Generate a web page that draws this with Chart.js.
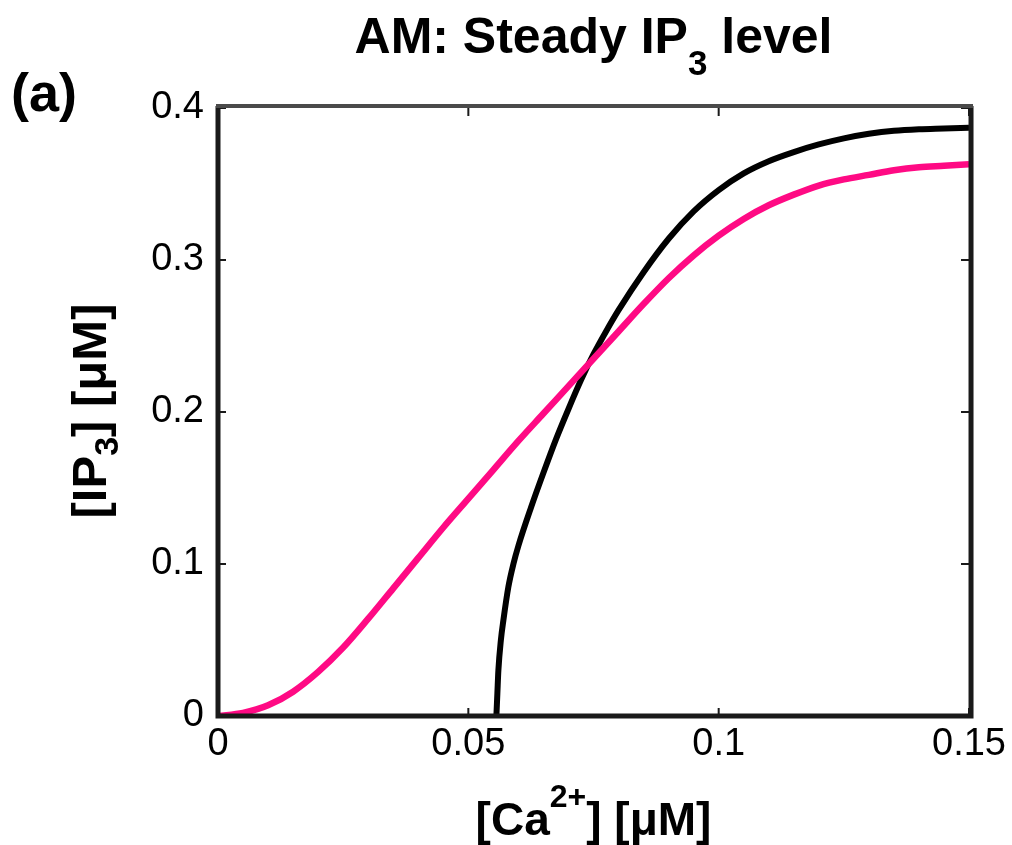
<!DOCTYPE html>
<html>
<head>
<meta charset="utf-8">
<script src="https://cdn.jsdelivr.net/npm/chart.js@4.4.1/dist/chart.umd.min.js"></script>
<style>
  html, body { margin: 0; padding: 0; background: #fff; }
  canvas { display: block; }
</style>
</head>
<body>
<canvas id="myChart" width="1012" height="845"></canvas>
<script>
// x ticks / y ticks
const xTicks = [0, 0.05, 0.1, 0.15];
const xTickLabels = ['0', '0.05', '0.1', '0.15'];
const yTicks = [0, 0.1, 0.2, 0.3, 0.4];
const yTickLabels = ['0', '0.1', '0.2', '0.3', '0.4'];

// pink curve
const caPink = [0, 0.005, 0.01, 0.015, 0.02, 0.025, 0.03, 0.035, 0.04, 0.045, 0.05,
  0.055, 0.06, 0.065, 0.07, 0.075, 0.08, 0.085, 0.09, 0.095, 0.1,
  0.105, 0.11, 0.115, 0.12, 0.125, 0.13, 0.135, 0.14, 0.145, 0.15];
const ip3Pink = [0, 0.002, 0.007, 0.016, 0.029, 0.045, 0.064, 0.084, 0.104, 0.124, 0.143,
  0.162, 0.181, 0.199, 0.217, 0.235, 0.253, 0.271, 0.288, 0.303, 0.316,
  0.327, 0.336, 0.343, 0.349, 0.353, 0.356, 0.359, 0.361, 0.362, 0.363];

// black curve
const caBlack = [0.0556, 0.0558, 0.056, 0.0565, 0.057, 0.058, 0.059, 0.06,
  0.0625, 0.065, 0.0675, 0.07, 0.0725, 0.075, 0.0775, 0.08,
  0.085, 0.09, 0.095, 0.1, 0.105, 0.11, 0.115, 0.12, 0.125, 0.13, 0.135, 0.14, 0.145, 0.15];
const ip3Black = [0, 0.015, 0.03, 0.05, 0.063, 0.085, 0.1, 0.112,
  0.137, 0.16, 0.182, 0.202, 0.221, 0.238, 0.253, 0.267,
  0.292, 0.314, 0.332, 0.346, 0.357, 0.365, 0.371, 0.376, 0.380, 0.383, 0.385, 0.386, 0.3865, 0.387];

const FONT = '"Liberation Sans", Arial, Helvetica, sans-serif';

function toPoints(xs, ys) {
  return xs.map((x, i) => ({ x: x, y: ys[i] }));
}

// draws a run of text pieces, some raised or lowered, centered on cx
function drawRich(c, parts, cx, baseY) {
  let total = 0;
  parts.forEach(p => {
    c.font = p.font;
    p.w = c.measureText(p.t).width;
    total += p.w;
  });
  let x = cx - total / 2;
  c.textAlign = 'left';
  c.textBaseline = 'alphabetic';
  parts.forEach(p => {
    c.font = p.font;
    c.fillText(p.t, x, baseY + (p.dy || 0));
    x += p.w;
  });
}

const framePlugin = {
  id: 'frame',
  afterDraw(chart) {
    const c = chart.ctx;
    const a = chart.chartArea;
    const xs = chart.scales.x, ys = chart.scales.y;
    c.save();

    // inward tick marks
    c.strokeStyle = '#1a1a1a';
    c.lineWidth = 2;
    c.beginPath();
    xTicks.forEach(v => {
      const px = xs.getPixelForValue(v);
      c.moveTo(px, a.bottom); c.lineTo(px, a.bottom - 8);
      c.moveTo(px, a.top); c.lineTo(px, a.top + 8);
    });
    yTicks.forEach(v => {
      const py = ys.getPixelForValue(v);
      c.moveTo(a.left, py); c.lineTo(a.left + 8, py);
      c.moveTo(a.right, py); c.lineTo(a.right - 8, py);
    });
    c.stroke();

    // box
    c.lineWidth = 5;
    c.strokeStyle = '#1a1a1a';
    c.beginPath();
    c.moveTo(a.left, a.top - 2);
    c.lineTo(a.left, a.bottom);
    c.lineTo(a.right + 2, a.bottom);
    c.lineTo(a.right + 2, a.top - 2);
    c.stroke();
    c.lineWidth = 4;
    c.strokeStyle = '#4a4a4a';
    c.beginPath();
    c.moveTo(a.left - 2, a.top - 2);
    c.lineTo(a.right + 4, a.top - 2);
    c.stroke();

    c.fillStyle = '#000';
    // title
    drawRich(c, [
      { t: 'AM: Steady IP', font: 'bold 50px ' + FONT },
      { t: '3', font: 'bold 35px ' + FONT, dy: 22 },
      { t: ' level', font: 'bold 50px ' + FONT }
    ], (a.left + a.right) / 2, 53);

    // panel letter
    c.font = 'bold 54px ' + FONT;
    c.textAlign = 'left';
    c.fillText('(a)', 11, 111);

    // x axis title
    drawRich(c, [
      { t: '[Ca', font: 'bold 46px ' + FONT },
      { t: '2+', font: 'bold 32px ' + FONT, dy: -28 },
      { t: '] [\u03BCM]', font: 'bold 46px ' + FONT }
    ], (a.left + a.right) / 2, 835);

    // y axis title
    c.save();
    c.translate(106, 411);
    c.rotate(-Math.PI / 2);
    drawRich(c, [
      { t: '[IP', font: 'bold 49px ' + FONT },
      { t: '3', font: 'bold 34px ' + FONT, dy: 12 },
      { t: '] [\u03BCM]', font: 'bold 49px ' + FONT }
    ], 0, 0);
    c.restore();

    c.restore();
  }
};

const ctx = document.getElementById('myChart');
const myChart = new Chart(ctx, {
  type: 'scatter',
  data: {
    datasets: [
      {
        label: 'pink',
        data: toPoints(caPink, ip3Pink),
        showLine: true,
        borderColor: '#ff0a84',
        borderWidth: 6.5,
        pointRadius: 0,
        cubicInterpolationMode: 'monotone'
      },
      {
        label: 'black',
        data: toPoints(caBlack, ip3Black),
        showLine: true,
        borderColor: '#000000',
        borderWidth: 6,
        pointRadius: 0,
        cubicInterpolationMode: 'monotone'
      }
    ]
  },
  options: {
    responsive: false,
    devicePixelRatio: 1,
    animation: false,
    layout: {
      padding: { top: 108, right: 39, left: 0, bottom: 0 }
    },
    plugins: {
      legend: { display: false },
      tooltip: { enabled: false },
      title: { display: false }
    },
    scales: {
      x: {
        type: 'linear',
        min: 0,
        max: 0.15,
        afterFit: s => { s.height = 129; },
        afterBuildTicks: s => { s.ticks = xTicks.map(v => ({ value: v })); },
        grid: { display: false, drawTicks: false },
        border: { display: false },
        ticks: {
          padding: 6,
          color: '#000',
          font: { family: FONT, size: 38 },
          maxRotation: 0,
          callback: (v, i) => xTickLabels[i]
        }
      },
      y: {
        type: 'linear',
        min: 0,
        max: 0.4,
        afterFit: s => { s.width = 218; },
        afterBuildTicks: s => { s.ticks = yTicks.map(v => ({ value: v })); },
        grid: { display: false, drawTicks: false },
        border: { display: false },
        ticks: {
          padding: 14,
          color: '#000',
          font: { family: FONT, size: 38 },
          callback: (v, i) => yTickLabels[i]
        }
      }
    }
  },
  plugins: [framePlugin]
});
</script>
</body>
</html>
